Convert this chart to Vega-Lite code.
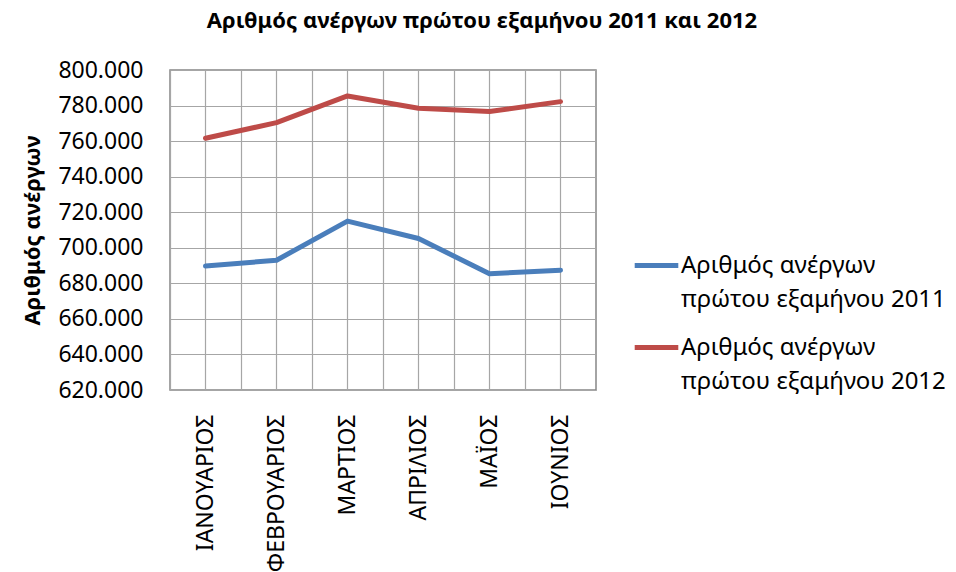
{
  "$schema": "https://vega.github.io/schema/vega-lite/v6.json",
  "width": 426,
  "height": 320,
  "autosize": {"type": "none"},
  "padding": {"left": 170, "top": 70, "right": 360, "bottom": 182},
  "background": "white",
  "config": {
    "font": "Noto Sans",
    "view": {"stroke": "#868686", "strokeWidth": 1.5},
    "axisY": {
      "values": [620000, 640000, 660000, 680000, 700000, 720000, 740000, 760000, 780000, 800000],
      "labelExpr": "replace(format(datum.value, ',.0f'), ',', '.')",
      "labelFontSize": 23, "labelColor": "#000000", "labelPadding": 27, "labelOverlap": false,
      "ticks": false, "domain": false, "grid": true, "gridColor": "#a6a6a6", "gridWidth": 1.2,
      "titleFontSize": 22, "titleFontWeight": "bold", "titleColor": "#000000", "titlePadding": 13
    }
  },
  "title": {
    "text": "Αριθμός ανέργων πρώτου εξαμήνου 2011 και 2012",
    "fontSize": 22,
    "fontWeight": "bold",
    "color": "#000000",
    "anchor": "middle",
    "dx": 99,
    "dy": 6,
    "baseline": "alphabetic",
    "offset": 15
  },
  "data": {
    "values": [
      {"month": "ΙΑΝΟΥΑΡΙΟΣ", "series": "Αριθμός ανέργων πρώτου εξαμήνου 2011", "value": 689700},
      {"month": "ΦΕΒΡΟΥΑΡΙΟΣ", "series": "Αριθμός ανέργων πρώτου εξαμήνου 2011", "value": 693000},
      {"month": "ΜΑΡΤΙΟΣ", "series": "Αριθμός ανέργων πρώτου εξαμήνου 2011", "value": 715000},
      {"month": "ΑΠΡΙΛΙΟΣ", "series": "Αριθμός ανέργων πρώτου εξαμήνου 2011", "value": 705200},
      {"month": "ΜΑΪΟΣ", "series": "Αριθμός ανέργων πρώτου εξαμήνου 2011", "value": 685400},
      {"month": "ΙΟΥΝΙΟΣ", "series": "Αριθμός ανέργων πρώτου εξαμήνου 2011", "value": 687400},
      {"month": "ΙΑΝΟΥΑΡΙΟΣ", "series": "Αριθμός ανέργων πρώτου εξαμήνου 2012", "value": 761600},
      {"month": "ΦΕΒΡΟΥΑΡΙΟΣ", "series": "Αριθμός ανέργων πρώτου εξαμήνου 2012", "value": 770400},
      {"month": "ΜΑΡΤΙΟΣ", "series": "Αριθμός ανέργων πρώτου εξαμήνου 2012", "value": 785400},
      {"month": "ΑΠΡΙΛΙΟΣ", "series": "Αριθμός ανέργων πρώτου εξαμήνου 2012", "value": 778500},
      {"month": "ΜΑΪΟΣ", "series": "Αριθμός ανέργων πρώτου εξαμήνου 2012", "value": 776600},
      {"month": "ΙΟΥΝΙΟΣ", "series": "Αριθμός ανέργων πρώτου εξαμήνου 2012", "value": 782200}
    ]
  },
  "layer": [
    {
      "mark": {"type": "line", "strokeOpacity": 0},
      "encoding": {
        "x": {
          "field": "month", "type": "nominal", "sort": null,
          "scale": {"type": "band", "paddingInner": 0, "paddingOuter": 0},
          "axis": {"orient": "top", "labels": false, "ticks": false, "domain": false, "title": null, "grid": true, "gridColor": "#a6a6a6", "gridWidth": 1.2, "bandPosition": 0}
        },
        "y": {
          "field": "value", "type": "quantitative",
          "scale": {"domain": [620000, 800000], "nice": false, "zero": false},
          "axis": {"title": "Αριθμός ανέργων", "values": [620000, 640000, 660000, 680000, 700000, 720000, 740000, 760000, 780000, 800000]}
        }
      }
    },
    {
      "mark": {"type": "line", "strokeWidth": 5, "strokeCap": "round", "strokeJoin": "round"},
      "encoding": {
        "x": {
          "field": "month", "type": "nominal", "sort": null,
          "axis": {
            "orient": "bottom", "title": null, "labelAngle": -90, "labelAlign": "right", "labelBaseline": "middle",
            "labelFontSize": 23, "labelColor": "#000000", "labelPadding": 24, "labelLimit": 300, "labelOverlap": false,
            "ticks": false, "domain": false, "grid": true, "gridColor": "#a6a6a6", "gridWidth": 1.2, "bandPosition": 0.5
          }
        },
        "y": {
          "field": "value", "type": "quantitative",
          "axis": {"title": "Αριθμός ανέργων", "values": [620000, 640000, 660000, 680000, 700000, 720000, 740000, 760000, 780000, 800000]}
        },
        "color": {
          "field": "series", "type": "nominal",
          "scale": {"range": ["#4a7ebb", "#be4b48"]},
          "legend": {
            "title": null, "orient": "none", "legendX": 462, "legendY": 171,
            "labelExpr": "[slice(datum.label, 0, 15), slice(datum.label, 16)]",
            "labelFontSize": 24, "labelColor": "#000000", "labelLimit": 400, "labelOffset": 0,
            "symbolType": "stroke", "symbolStrokeWidth": 5, "symbolSize": 1900, "rowPadding": 11,
            "encode": {"labels": {"update": {"lineHeight": {"value": 34}}}}
          }
        }
      }
    }
  ],
  "resolve": {"axis": {"x": "independent"}}
}
